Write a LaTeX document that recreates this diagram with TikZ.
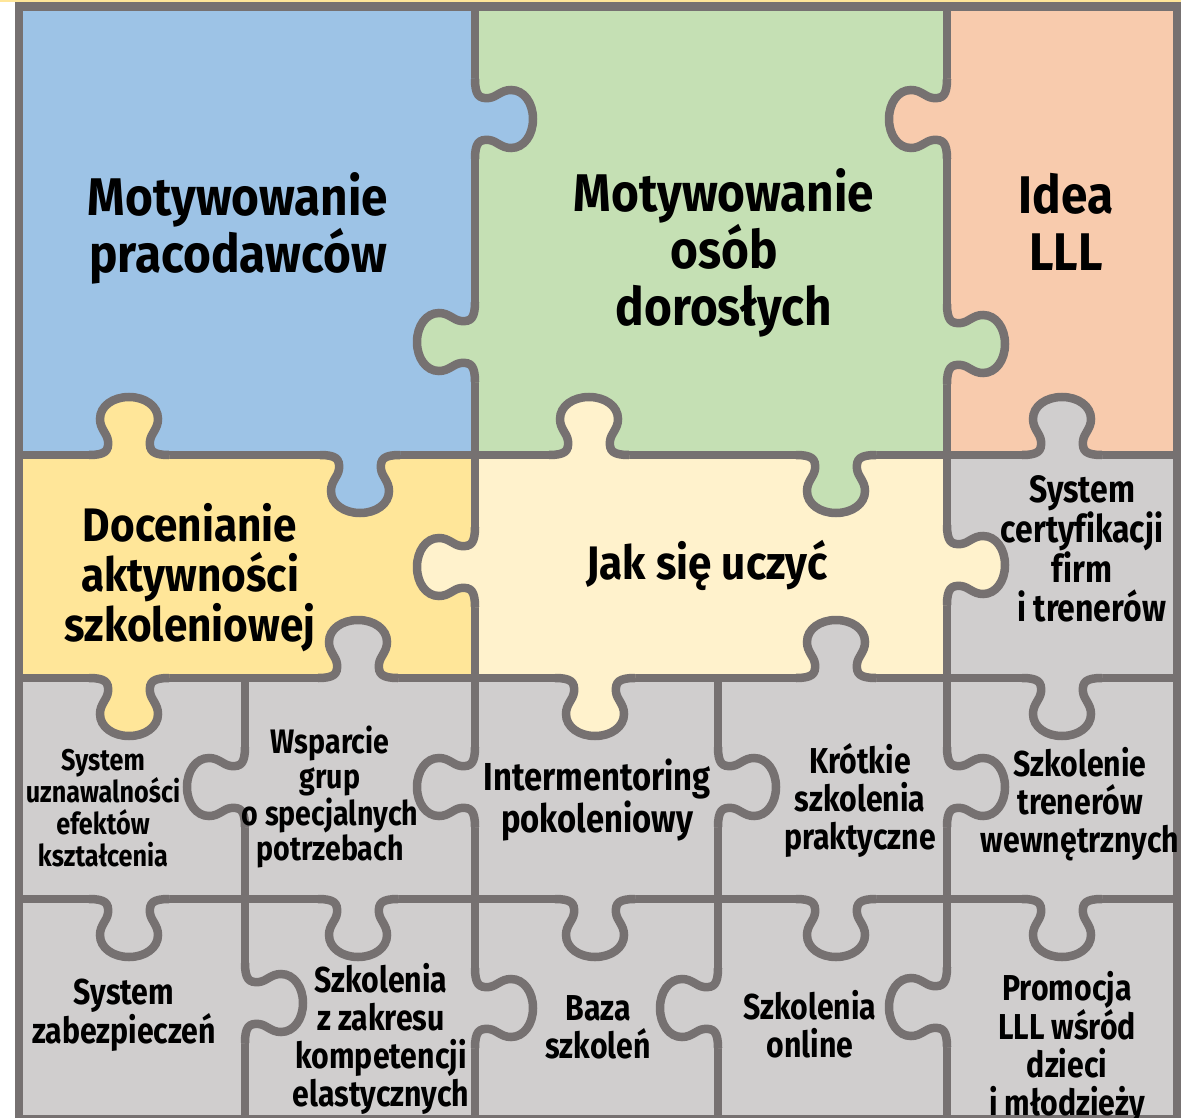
\documentclass[tikz,border=0pt]{standalone}
\usepackage{fontspec}
\setmainfont{Fira Sans}[FakeStretch=0.9, Ligatures=NoCommon]
\newfontfamily\narrowfont{Fira Sans}[FakeStretch=0.84, Ligatures=NoCommon]

\definecolor{lineg}{HTML}{767171}
\definecolor{pblue}{HTML}{9DC3E6}
\definecolor{pgreen}{HTML}{C5E0B4}
\definecolor{porange}{HTML}{F8CBAD}
\definecolor{pyellow}{HTML}{FFE699}
\definecolor{plight}{HTML}{FFF2CC}
\definecolor{pgray}{HTML}{D0CECE}

% one puzzle tab, base on the edge, pointing along local +y
\newcommand{\knobcurve}{(-40,0) .. controls (-24,0) and (-20,4) .. (-21,14)
	.. controls (-22,22) and (-29,26) .. (-29,36)
	.. controls (-29,49) and (-16,58) .. (0,58)
	.. controls (16,58) and (29,49) .. (29,36)
	.. controls (29,26) and (22,22) .. (21,14)
	.. controls (20,4) and (24,0) .. (40,0)}

\begin{document}
\begin{tikzpicture}[x=1pt, y=-1pt,
		pline/.style={draw=lineg, line width=8.5pt},
		big/.style={font=\fontsize{53}{57}\selectfont\bfseries, align=center},
		mid/.style={font=\fontsize{47}{50}\selectfont\bfseries, align=center},
		small/.style={font=\narrowfont\fontsize{36}{38}\selectfont\bfseries, align=center},
		wide/.style={font=\narrowfont\fontsize{38}{39}\selectfont\bfseries, align=center},
		tiny/.style={font=\narrowfont\fontsize{30}{32}\selectfont\bfseries, align=center}]
	\useasboundingbox (0,0) rectangle (1181,1118);
	\fill[pyellow] (0,0) rectangle (1181,2.5);
	% pieces
	\fill[pblue] (19,6.5) rectangle (475,455);
	\fill[pgreen] (475,6.5) rectangle (947,455);
	\fill[porange] (947,6.5) rectangle (1177,455);
	\fill[pyellow] (19,455) rectangle (475,678);
	\fill[plight] (475,455) rectangle (947,678);
	\fill[pgray] (947,455) rectangle (1177,678);
	\fill[pgray] (19,678) rectangle (1177,1119);
	% straight cuts
	\draw[pline] (19,6.5) rectangle (1177,1119);
	\foreach \yy in {455,678,899}
		\draw[pline] (19,\yy) -- (1177,\yy);
	\foreach \xx in {475,947}
		\draw[pline] (\xx,6.5) -- (\xx,1119);
	\foreach \xx in {245,718}
		\draw[pline] (\xx,678) -- (\xx,1119);
	% tabs: x/y/turn/colour of the piece they belong to
	\foreach \kx/\ky/\ka/\kc in {129/455/180/pyellow, 360/455/0/pblue, 589/455/180/plight,
			836/455/0/pgreen, 1062/455/180/pgray, 475/119/90/pblue, 475/342/-90/pgreen,
			947/119/-90/porange, 947/344/90/pgreen, 475/567/-90/plight, 947/565/90/plight,
			129/678/0/pyellow, 358/678/180/pgray, 595/678/0/plight, 836/678/180/pgray,
			1062/678/0/pgray, 245/787/-90/pgray, 475/787/-90/pgray, 718/787/90/pgray,
			947/787/90/pgray, 129/899/0/pgray, 358/899/0/pgray, 595/899/0/pgray,
			836/899/0/pgray, 1062/899/0/pgray, 245/1003/90/pgray, 475/1008/90/pgray,
			718/1008/-90/pgray, 947/1007/-90/pgray}
	{
		\begin{scope}[shift={(\kx,\ky)}, rotate=\ka]
			\fill[\kc] \knobcurve -- (40,-7) -- (-40,-7) -- cycle;
			\draw[pline] \knobcurve;
		\end{scope}
	}
	% labels
	\node[big] (pracod) at (238,228) {Motywowanie\\pracodawców};
	\node[big] (osob) at (724,253) {Motywowanie\\osób\\dorosłych};
	\node[big] (idea) at (1066,222) {Idea\\LLL};
	\node[mid] (docen) at (190,578) {Docenianie\\aktywności\\szkoleniowej};
	\node[mid] (jak) at (707,565) {Jak się uczyć};
	\node[wide] (certyf) at (1082,549) {System\\certyfikacji\\firm\\\hspace*{.5em}i trenerów};
	\node[tiny] (uznaw) at (103,808) {System\\uznawalności\\efektów\\kształcenia};
	\node[font=\narrowfont\fontsize{34}{35}\selectfont\bfseries, align=center] (wsparcie) at (330,797) {Wsparcie\\grup\\o specjalnych\\potrzebach};
	\node[font=\narrowfont\fontsize{39}{40}\selectfont\bfseries, align=center] (interm) at (597,800) {Intermentoring\\pokoleniowy};
	\node[small] (krotkie) at (860,800) {Krótkie\\szkolenia\\praktyczne};
	\node[small] (trenerzy) at (1080,804) {Szkolenie\\trenerów\\wewnętrznych};
	\node[small] (zabezp) at (124,1015) {System\\zabezpieczeń};
	\node[small] (elast) at (381,1039) {Szkolenia\\z zakresu\\kompetencji\\elastycznych};
	\node[small] (baza) at (598,1027) {Baza\\szkoleń};
	\node[small] (online) at (810,1024) {Szkolenia\\online};
	\node[small] (promocja) at (1067,1047) {Promocja\\LLL wśród\\dzieci\\i młodzieży};
\end{tikzpicture}
\end{document}
